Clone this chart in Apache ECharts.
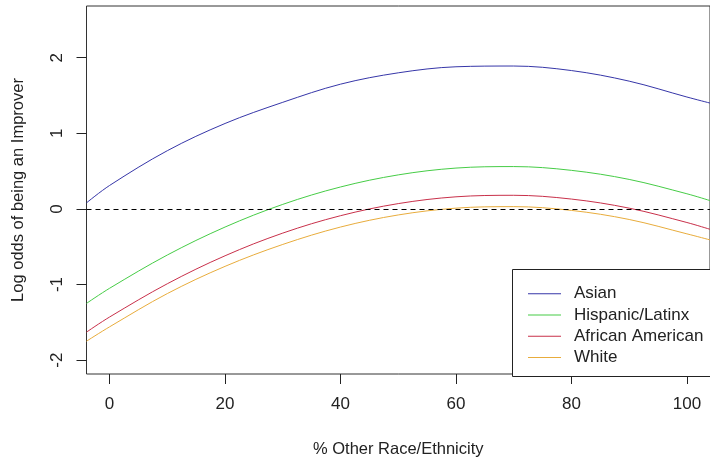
<!DOCTYPE html>
<html>
<head>
<meta charset="utf-8">
<script src="https://cdn.jsdelivr.net/npm/echarts@6/dist/echarts.min.js"></script>
<style>
html,body{margin:0;padding:0;background:#fff;}
#chart{width:710px;height:463px;}
</style>
</head>
<body>
<div id="chart"></div>
<script>
// x positions (% Other Race/Ethnicity)
var xValues = [-4, 0, 10, 20, 30, 40, 50, 60, 70, 80, 90, 100, 104];
// Log odds
var asian    = [0.08, 0.31, 0.77, 1.13, 1.41, 1.65, 1.80, 1.88, 1.89, 1.83, 1.69, 1.48, 1.40];
var hispanic = [-1.25, -1.05, -0.61, -0.24, 0.06, 0.29, 0.45, 0.54, 0.56, 0.51, 0.39, 0.20, 0.11];
var african  = [-1.63, -1.43, -0.99, -0.62, -0.32, -0.09, 0.07, 0.16, 0.18, 0.13, 0.01, -0.18, -0.27];
var white    = [-1.75, -1.56, -1.12, -0.76, -0.47, -0.24, -0.08, 0.01, 0.03, -0.02, -0.14, -0.33, -0.41];
var seriesNames = ['Asian', 'Hispanic/Latinx', 'African American', 'White'];
var xTicks = [0, 20, 40, 60, 80, 100];
var yTicks = [-2, -1, 0, 1, 2];

var colors = ['#3636a8', '#46cc46', '#c8304a', '#e8ac3c'];
var allSeries = [asian, hispanic, african, white];

function pairs(arr) { return xValues.map(function (x, i) { return [x, arr[i]]; }); }

var font = 'Liberation Sans, Arial, sans-serif';
var chart = echarts.init(document.getElementById('chart'), null, {renderer: 'canvas'});

var series = allSeries.map(function (arr, i) {
  var s = {
    name: seriesNames[i],
    type: 'line',
    data: pairs(arr),
    smooth: 0.35,
    symbol: 'none',
    lineStyle: {color: colors[i], width: 1},
    itemStyle: {color: colors[i]},
    silent: true,
    z: 3
  };
  if (i === 0) {
    s.markLine = {
      silent: true,
      symbol: 'none',
      label: {show: false},
      lineStyle: {color: '#000', type: [5, 4], width: 1},
      data: [{yAxis: 0}]
    };
  }
  return s;
});

chart.setOption({
  animation: false,
  backgroundColor: '#fff',
  grid: {
    left: 86.5, top: 6, width: 627, height: 370,
    show: true, borderColor: '#333', borderWidth: 1, backgroundColor: 'transparent'
  },
  xAxis: {
    type: 'value', min: -4, max: 104,
    name: '% Other Race/Ethnicity', nameLocation: 'middle', nameGap: 67,
    nameTextStyle: {fontFamily: font, fontSize: 16.5, color: '#222'},
    axisLine: {show: false, onZero: false},
    splitLine: {show: false},
    axisTick: {show: true, length: 10, customValues: xTicks, lineStyle: {color: '#222'}},
    axisLabel: {customValues: xTicks, margin: 22, fontFamily: font, fontSize: 17, color: '#222'}
  },
  yAxis: {
    type: 'value', min: -2.184, max: 2.684,
    name: 'Log odds of being an Improver', nameLocation: 'middle', nameGap: 60, nameRotate: 90,
    nameTextStyle: {fontFamily: font, fontSize: 16.5, color: '#222'},
    axisLine: {show: false, onZero: false},
    splitLine: {show: false},
    axisTick: {show: true, length: 10, customValues: yTicks, lineStyle: {color: '#222'}},
    axisLabel: {customValues: yTicks, rotate: 90, margin: 21, fontFamily: font, fontSize: 17, color: '#222'}
  },
  legend: {
    orient: 'vertical',
    left: 528, top: 283,
    z: 20,
    icon: 'rect', itemWidth: 33, itemHeight: 1, itemGap: 0,
    padding: 0,
    data: seriesNames,
    textStyle: {fontFamily: font, fontSize: 17, color: '#222', lineHeight: 21.3, padding: [0, 0, 0, 8]},
    selectedMode: false
  },
  graphic: [{
    type: 'rect',
    shape: {x: 512.5, y: 269.5, width: 220, height: 107},
    style: {fill: '#fff', stroke: '#222', lineWidth: 1},
    z: 5, silent: true
  }],
  series: series
});
</script>
</body>
</html>
